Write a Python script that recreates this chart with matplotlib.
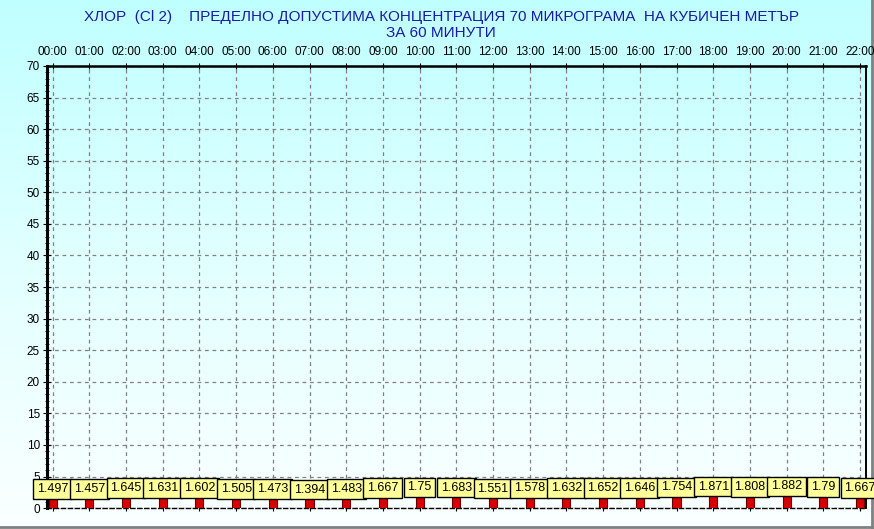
import numpy as np
import matplotlib.pyplot as plt
from matplotlib.colors import LinearSegmentedColormap

plt.rcParams['font.family'] = ['Liberation Sans', 'DejaVu Sans']

# Data
hours = ['00:00', '01:00', '02:00', '03:00', '04:00', '05:00', '06:00', '07:00',
         '08:00', '09:00', '10:00', '11:00', '12:00', '13:00', '14:00', '15:00',
         '16:00', '17:00', '18:00', '19:00', '20:00', '21:00', '22:00']
values = [1.497, 1.457, 1.645, 1.631, 1.602, 1.505, 1.473, 1.394, 1.483, 1.667,
          1.75, 1.683, 1.551, 1.578, 1.632, 1.652, 1.646, 1.754, 1.871, 1.808,
          1.882, 1.79, 1.667]
y_ticks = list(range(0, 75, 5))
title = ('ХЛОР  (Cl 2)    ПРЕДЕЛНО ДОПУСТИМА КОНЦЕНТРАЦИЯ 70 МИКРОГРАМА  НА КУБИЧЕН МЕТЪР\n'
         'ЗА 60 МИНУТИ')

fig = plt.figure(figsize=(8.74, 5.29), dpi=100)

# background gradient (cyan at the top to white at the bottom)
bg = fig.add_axes([0, 0, 1, 1], zorder=-10)
cmap = LinearSegmentedColormap.from_list('bg', ['#c0ffff', '#e2ffff', '#fbffff'])
bg.imshow(np.linspace(0, 1, 256).reshape(-1, 1), aspect='auto', cmap=cmap,
          extent=[0, 1, 0, 1])
bg.set_xlim(0, 1)
bg.set_ylim(0, 1)
bg.axhline(0.003, color='#808080', lw=2)
bg.axvline(0.998, color='#808080', lw=2)
bg.axis('off')

ax = fig.add_axes([0.0535, 0.0395, 0.9370, 0.8358])
ax.set_facecolor('none')
x = np.arange(len(hours))

ax.bar(x, values, width=0.22, color='#d80000', edgecolor='#660000', lw=0.8, zorder=3)
for xi, v in zip(x, values):
    ax.annotate(f'{v:g}', (xi, v), xytext=(0, 2.7), textcoords='offset points',
                ha='center', va='bottom', fontsize=9, color='black', zorder=5,
                bbox=dict(boxstyle='square,pad=0.3', fc='#ffff99', ec='black', lw=1))

ax.set_xlim(-0.16, 22.155)
ax.set_ylim(0, 70)
ax.set_xticks(x)
ax.set_xticklabels(hours)
ax.xaxis.tick_top()
ax.set_yticks(y_ticks)
ax.set_yticks(range(0, 71), minor=True)
ax.tick_params(axis='x', which='major', direction='inout', length=5, labelsize=8.5,
               pad=3, top=True, bottom=True)
ax.tick_params(axis='y', which='major', direction='inout', length=6, labelsize=8.5, pad=2)
ax.tick_params(axis='y', which='minor', direction='inout', length=3)

ax.grid(True, color='#808080', ls=(0, (3, 3)), lw=0.9)
ax.set_axisbelow(True)

ax.spines['left'].set_linewidth(2.2)
ax.spines['right'].set_linewidth(1.4)
ax.spines['top'].set_linewidth(1.8)
ax.spines['top'].set_linestyle((0, (2, 1)))
ax.spines['bottom'].set_linewidth(1.0)
ax.spines['bottom'].set_linestyle((0, (3, 2)))

fig.text(0.505, 0.982, title, ha='center', va='top', fontsize=11, color='#1a1aa6',
         linespacing=1.2)

fig.savefig('out.png', dpi=100)
